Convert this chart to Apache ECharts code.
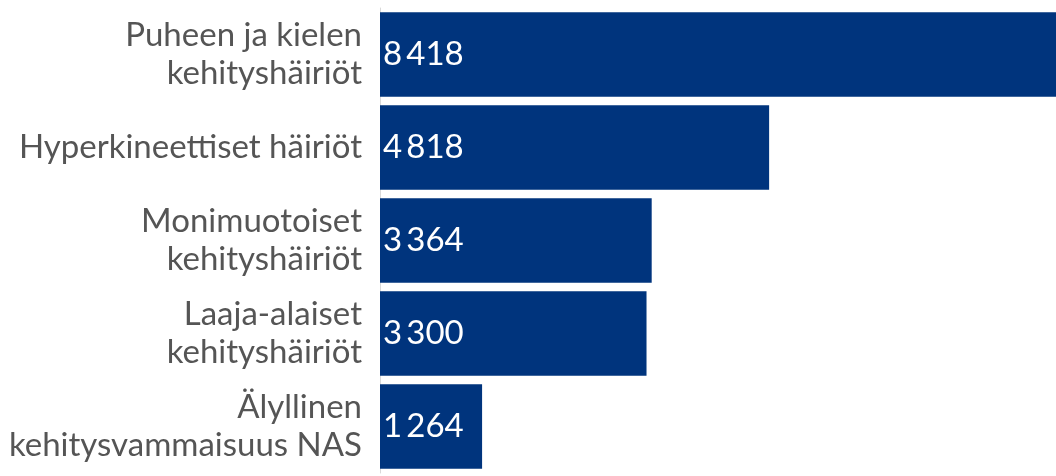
<!DOCTYPE html>
<html>
<head>
<meta charset="utf-8">
<script src="https://cdn.jsdelivr.net/npm/echarts@6/dist/echarts.min.js"></script>
<style>
  html, body { margin: 0; padding: 0; background: #fff; }
  #chart { width: 1056px; height: 476px; }
</style>
</head>
<body>
<div id="chart"></div>
<script>
// diagnoosit, ylhäältä alas
const categories = [
  'Puheen ja kielen\nkehityshäiriöt',
  'Hyperkineettiset häiriöt',
  'Monimuotoiset\nkehityshäiriöt',
  'Laaja-alaiset\nkehityshäiriöt',
  'Älyllinen\nkehitysvammaisuus NAS'
]
const values = [8418, 4818, 3364, 3300, 1264]

const chart = echarts.init(document.getElementById('chart'), null, { renderer: 'canvas' })

// tuhaterotin kapealla välilyönnillä
const fmt = v => String(v).replace(/\B(?=(\d{3})+(?!\d))/g, '\u2009')

chart.setOption({
  animation: false,
  grid: { left: 380, right: 0, top: 8, height: 465, containLabel: false },
  xAxis: {
    type: 'value',
    min: 0,
    max: 8370,
    show: false
  },
  yAxis: {
    type: 'category',
    data: categories,
    inverse: true,
    axisLine: { show: true, lineStyle: { color: '#d9d9d9', width: 1 } },
    axisTick: { show: false },
    axisLabel: {
      color: '#555',
      fontFamily: 'Lato',
      fontSize: 33,
      lineHeight: 38,
      margin: 18,
      align: 'right'
    }
  },
  series: [{
    type: 'bar',
    data: values,
    barCategoryGap: '9%',
    itemStyle: { color: '#00347d' },
    label: {
      show: true,
      position: 'insideLeft',
      distance: 3,
      color: '#fff',
      fontFamily: 'Lato',
      fontSize: 33,
      formatter: p => fmt(p.value)
    }
  }]
})
</script>
</body>
</html>
